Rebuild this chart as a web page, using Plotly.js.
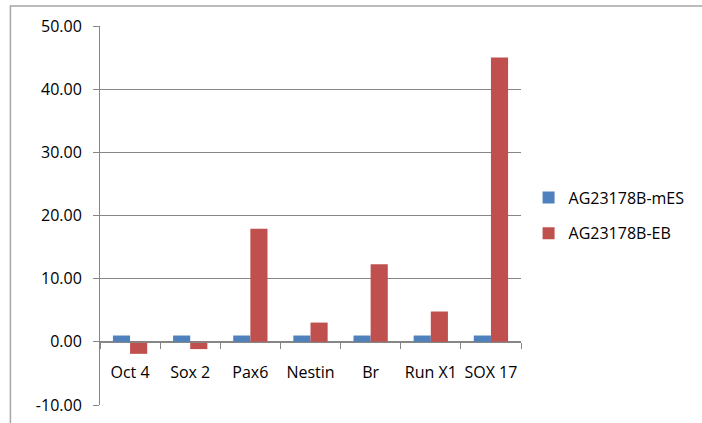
<!DOCTYPE html>
<html>
<head>
<meta charset="utf-8">
<script src="https://cdn.plot.ly/plotly-3.0.1.min.js"></script>
<style>html,body{margin:0;padding:0;background:#fff;}#chart{width:702px;height:423px;}</style>
</head>
<body>
<div id="chart"></div>
<script>
const categories = ["Oct 4", "Sox 2", "Pax6", "Nestin", "Br", "Run X1", "SOX 17"];
const seriesNames = ["AG23178B-mES", "AG23178B-EB"];
const mES = [1.0, 1.0, 1.0, 1.0, 1.0, 1.0, 1.0];
const EB = [-1.9, -1.15, 17.9, 3.05, 12.3, 4.8, 45.0];
const yTicks = [-10, 0, 10, 20, 30, 40, 50];
const yTickText = ["-10.00", "0.00", "10.00", "20.00", "30.00", "40.00", "50.00"];

const font = {family: "Open Sans, sans-serif", size: 16, color: "#000"};
const axisGrey = "#868686";

const traces = [
  {type: "bar", name: seriesNames[0], x: categories, y: mES, marker: {color: "#4F81BD"}, legendgroup: "a"},
  {type: "bar", name: seriesNames[1], x: categories, y: EB, marker: {color: "#C0504D"}, legendgroup: "b"}
];

const layout = {
  width: 702, height: 423,
  margin: {l: 100, r: 179, t: 26, b: 18},
  paper_bgcolor: "#fff", plot_bgcolor: "#fff",
  font: font,
  barmode: "group", bargap: 0.43, bargroupgap: 0,
  showlegend: true,
  legend: {x: 1.018, xanchor: "left", y: 0.5, yanchor: "middle", font: font,
           traceorder: "grouped", tracegroupgap: 12, bgcolor: "rgba(0,0,0,0)"},
  xaxis: {type: "category", anchor: "free", position: 1/6,
          showline: true, linecolor: axisGrey, linewidth: 1,
          ticks: "outside", tickson: "boundaries", ticklen: 6, tickcolor: axisGrey,
          tickangle: 0, showgrid: false, zeroline: false, ticklabelstandoff: 16},
  yaxis: {range: [-10, 50], tickvals: yTicks, ticktext: yTickText,
          showline: true, linecolor: axisGrey, linewidth: 1,
          ticks: "outside", ticklen: 6, tickcolor: axisGrey,
          showgrid: true, gridcolor: axisGrey, gridwidth: 1, zeroline: false,
          ticklabelstandoff: 8},
  shapes: [{type: "rect", xref: "paper", yref: "paper",
            x0: (10 - 100) / 423, x1: 2, y0: -1, y1: (405 - 6) / 379,
            line: {color: "#a6a6a6", width: 1.5}, layer: "below"}]
};

Plotly.newPlot("chart", traces, layout, {displayModeBar: false, staticPlot: true});
</script>
</body>
</html>
